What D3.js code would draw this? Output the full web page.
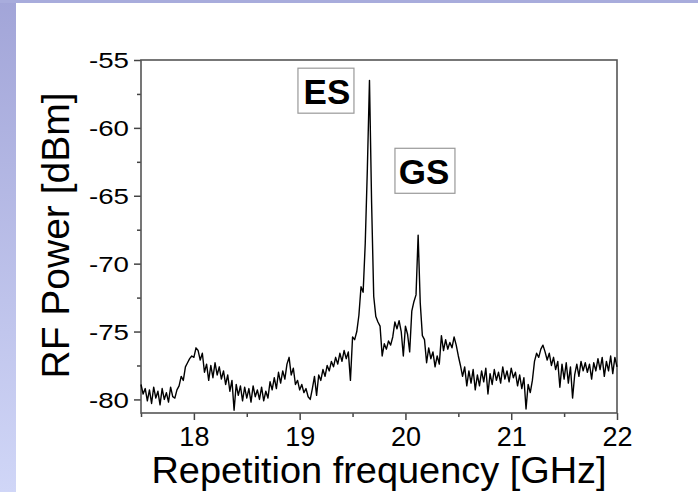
<!DOCTYPE html>
<html>
<head>
<meta charset="utf-8">
<script src="https://cdn.jsdelivr.net/npm/d3@7"></script>
<style>
  body { margin: 0; background: #fff; }
  svg { display: block; font-family: "Liberation Sans", Arial, sans-serif; }
</style>
</head>
<body>
<svg id="chart" width="698" height="492"></svg>
<script>
// sampled RF spectrum, one value every 0.02 GHz starting at 17.50 GHz
var freqStart = 17.5,
	freqStep = 0.02;

var powerDbm = [
	// 17.50
	-78.9, -79.6, -79.2, -80.1, -79.3, -80.3, -79.1, -79.9, -79.4, -80.4,
	// 17.70
	-79.2, -80.0, -79.5, -80.2, -79.1, -79.8, -79.9, -79.3, -79.0, -78.3,
	// 17.90
	-78.6, -77.6, -77.3, -77.0, -76.8, -76.9, -76.2, -76.4, -77.1, -76.6,
	// 18.10
	-78.0, -77.4, -78.6, -77.5, -78.4, -77.3, -78.2, -77.6, -78.5, -77.9,
	// 18.30
	-78.9, -78.2, -79.4, -78.6, -80.8, -78.9, -79.7, -79.0, -80.1, -79.1,
	// 18.50
	-79.9, -79.2, -80.2, -79.0, -79.8, -79.3, -80.0, -79.1, -80.1, -79.4,
	// 18.70
	-79.9, -78.7, -79.3, -78.4, -79.2, -78.0, -78.8, -77.9, -78.5, -77.4,
	// 18.90
	-76.9, -78.2, -77.7, -78.9, -78.6, -79.3, -78.9, -79.5, -79.2, -79.8,
	// 19.10
	-80.0, -79.2, -78.3, -79.7, -78.2, -78.6, -77.8, -78.3, -77.5, -77.9,
	// 19.30
	-77.2, -77.6, -76.9, -77.4, -76.6, -77.2, -76.4, -77.0, -76.5, -78.6,
	// 19.50
	-75.4, -75.6, -75.0, -73.8, -71.7, -72.1, -68.5, -63.0, -56.5, -65.5,
	// 19.70
	-72.4, -73.9, -74.3, -74.6, -76.8, -75.9, -76.3, -75.7, -76.0, -75.4,
	// 19.90
	-74.3, -74.8, -74.2, -75.0, -76.8, -74.6, -75.2, -76.5, -73.5, -72.8,
	// 20.10
	-72.3, -67.9, -72.9, -75.3, -75.6, -77.3, -76.2, -77.0, -76.5, -77.6,
	// 20.30
	-76.8, -77.4, -75.3, -76.4, -75.6, -76.3, -75.8, -76.2, -75.4, -76.0,
	// 20.50
	-76.8, -77.5, -78.3, -77.6, -79.0, -77.9, -78.8, -77.8, -79.3, -78.2,
	// 20.70
	-79.0, -77.9, -78.7, -77.7, -79.6, -78.1, -78.9, -77.8, -78.6, -78.0,
	// 20.90
	-78.8, -77.6, -78.5, -77.9, -78.7, -77.7, -78.4, -78.0, -79.0, -78.2,
	// 21.10
	-79.2, -78.4, -80.7, -78.9, -79.5, -78.6, -77.2, -76.6, -76.9, -76.3,
	// 21.30
	-76.0, -76.5, -77.1, -76.6, -77.5, -76.9, -77.8, -77.2, -79.1, -77.4,
	// 21.50
	-78.5, -77.3, -78.8, -77.6, -79.9, -78.2, -77.4, -78.3, -77.2, -77.9,
	// 21.70
	-77.3, -78.0, -77.4, -78.5, -77.3, -77.9, -77.0, -77.8, -76.9, -78.3,
	// 21.90
	-77.2, -77.9, -76.8, -78.1, -76.9, -77.6
];

var xMajorTicks = [18, 19, 20, 21, 22],
	xMinorTicks = [17.5, 18.5, 19.5, 20.5, 21.5],
	yMajorTicks = [-55, -60, -65, -70, -75, -80],
	yMinorTicks = [-57.5, -62.5, -67.5, -72.5, -77.5];

// peak labels, placed at a frequency / power position
var peakLabels = ["ES", "GS"],
	peakLabelFreq = [19.258, 20.175],
	peakLabelDbm = [-57.26, -63.16];

var svg = d3.select("#chart"),
	x = d3.scaleLinear().domain([17.5, 22]).range([141, 617]),
	y = d3.scaleLinear().domain([-81, -55]).range([413, 60]);

// slide background: lavender strip on top, gradient strip on the left
var grad = svg.append("defs")
	.append("linearGradient")
	.attr("id", "leftBand")
	.attr("x1", 0).attr("y1", 0)
	.attr("x2", 0).attr("y2", 1);
grad.append("stop").attr("offset", "0%").attr("stop-color", "#a2a5d8");
grad.append("stop").attr("offset", "100%").attr("stop-color", "#d0d6f7");

svg.append("rect")
	.attr("x", 0).attr("y", 0)
	.attr("width", 16).attr("height", 492)
	.attr("fill", "url(#leftBand)");
svg.append("rect")
	.attr("x", 0).attr("y", 0)
	.attr("width", 698).attr("height", 3)
	.attr("fill", "#a8acdc");

// axes
var xAxis = svg.append("g")
	.attr("class", "x-axis")
	.attr("transform", "translate(0," + y.range()[0] + ")")
	.call(d3.axisBottom(x)
		.tickValues(xMajorTicks)
		.tickSize(7)
		.tickPadding(7)
		.tickFormat(function(d) { return String(d); }));

svg.append("g")
	.attr("transform", "translate(0," + y.range()[0] + ")")
	.call(d3.axisBottom(x)
		.tickValues(xMinorTicks)
		.tickSize(4)
		.tickFormat(""));

var yAxis = svg.append("g")
	.attr("class", "y-axis")
	.attr("transform", "translate(" + x.range()[0] + ",0)")
	.call(d3.axisLeft(y)
		.tickValues(yMajorTicks)
		.tickSize(7)
		.tickPadding(5)
		.tickFormat(function(d) { return String(d); }));

svg.append("g")
	.attr("transform", "translate(" + x.range()[0] + ",0)")
	.call(d3.axisLeft(y)
		.tickValues(yMinorTicks)
		.tickSize(4)
		.tickFormat(""));

svg.selectAll(".domain").remove();
svg.selectAll(".tick line")
	.attr("stroke", "#444")
	.attr("stroke-width", 1.5);

xAxis.selectAll(".tick text")
	.attr("fill", "#000")
	.style("font-size", "27px");

yAxis.selectAll(".tick text")
	.attr("fill", "#000")
	.attr("dy", "0.36em")
	.style("font-size", "22px")
	.attr("textLength", 40)
	.attr("lengthAdjust", "spacingAndGlyphs");

// plot frame
svg.append("rect")
	.attr("x", x.range()[0])
	.attr("y", y.range()[1])
	.attr("width", x.range()[1] - x.range()[0])
	.attr("height", y.range()[0] - y.range()[1])
	.attr("fill", "none")
	.attr("stroke", "#555")
	.attr("stroke-width", 1.6);

// spectrum trace
var line = d3.line()
	.x(function(d, i) { return x(freqStart + i * freqStep); })
	.y(function(d) { return y(d); });

svg.append("path")
	.datum(powerDbm)
	.attr("fill", "none")
	.attr("stroke", "#000")
	.attr("stroke-width", 1.4)
	.attr("stroke-linejoin", "round")
	.attr("d", line);

// peak labels in boxes
peakLabels.forEach(function(label, i) {
	var g = svg.append("g")
		.attr("transform", "translate(" + x(peakLabelFreq[i]) + "," + y(peakLabelDbm[i]) + ")");
	g.append("rect")
		.attr("x", -29)
		.attr("y", -22.5)
		.attr("width", i === 0 ? 56 : 60)
		.attr("height", 45)
		.attr("fill", "#fff")
		.attr("stroke", "#999")
		.attr("stroke-width", 1.2);
	g.append("text")
		.attr("text-anchor", "middle")
		.attr("y", 13)
		.style("font-size", "35px")
		.style("font-weight", "bold")
		.text(label);
});

// axis titles
svg.append("text")
	.attr("x", (x.range()[0] + x.range()[1]) / 2)
	.attr("y", 483)
	.attr("text-anchor", "middle")
	.style("font-size", "36px")
	.attr("textLength", 455)
	.attr("lengthAdjust", "spacingAndGlyphs")
	.text("Repetition frequency [GHz]");

svg.append("text")
	.attr("transform", "translate(69," + ((y.range()[0] + y.range()[1]) / 2 - 1) + ") rotate(-90)")
	.attr("text-anchor", "middle")
	.style("font-size", "39px")
	.text("RF Power [dBm]");
</script>
</body>
</html>
